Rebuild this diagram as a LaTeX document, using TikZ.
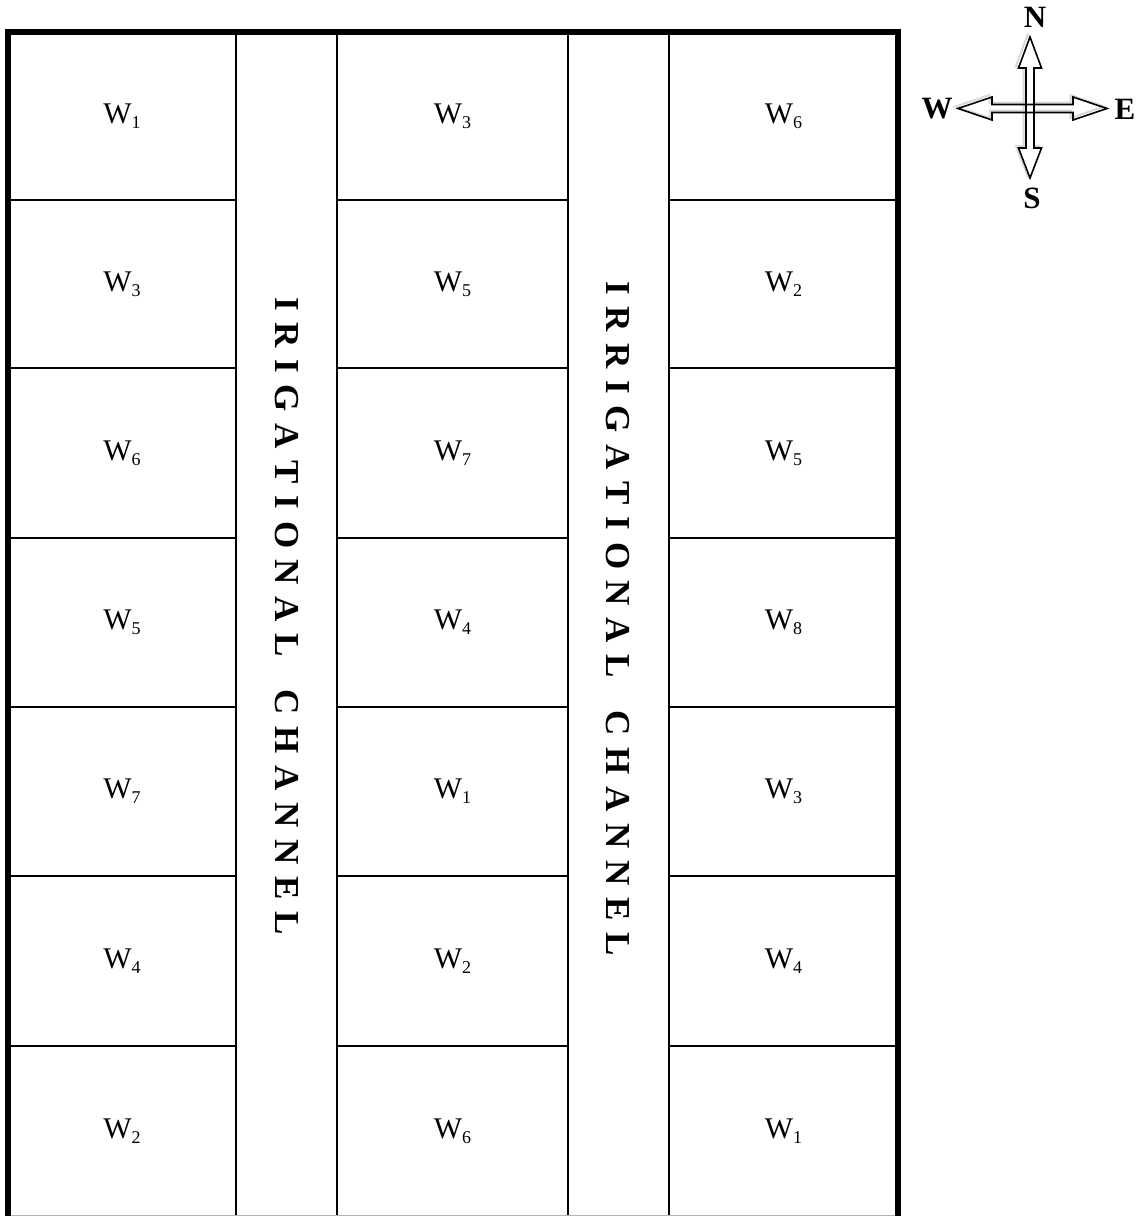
\documentclass[tikz,border=0pt]{standalone}
\usepackage{fontspec}
\setmainfont{Liberation Serif}
\newcommand\wl[1]{W\raisebox{-5pt}{\fontsize{18}{18}\selectfont #1}}
\def\gp{\hskip 11.7pt}
\begin{document}
\begin{tikzpicture}[x=1pt,y=-1pt,
  grid/.style={line width=2pt, black},
  outer/.style={line width=5.5pt, black, line join=miter},
  lab/.style={font=\fontsize{30}{30}\selectfont, inner sep=0pt},
  chan/.style={font=\fontsize{35}{35}\selectfont\bfseries, inner sep=0pt, rotate=-90, anchor=west},
  comp/.style={line width=1.6pt, line join=miter},
  compshadow/.style={line width=2pt, gray!30},
  dir/.style={font=\fontsize{31}{31}\selectfont\bfseries, inner sep=0pt}]
\useasboundingbox (0,0) rectangle (1138,1216);
\fill[white] (0,0) rectangle (1138,1216);

% channel / column lines
\foreach \x in {236,337,568,669} \draw[grid] (\x,32) -- (\x,1216);
% plot row lines
\foreach \y in {200,368,538,707,876,1046} {
  \draw[grid] (8,\y) -- (236,\y);
  \draw[grid] (337,\y) -- (568,\y);
  \draw[grid] (669,\y) -- (898,\y);
}
\draw[gray!60, line width=1pt] (8,1215) -- (898,1215);
\draw[outer] (8,1216) -- (8,32) -- (898,32) -- (898,1216);

% plot labels
\foreach [count=\r] \y/\a/\b/\c in {116/1/3/6, 284/3/5/2, 453/6/7/5, 622.5/5/4/8, 791.5/7/1/3, 961/4/2/4, 1131/2/6/1} {
  \node[lab] (a\r) at (122,\y) {\wl{\a}};
  \node[lab] (b\r) at (452.5,\y) {\wl{\b}};
  \node[lab] (c\r) at (783.5,\y) {\wl{\c}};
}

% channel texts
\node[chan] (ch1) at (286.5,297) {I\gp R\gp I\gp G\gp A\gp T\gp I\gp O\gp N\gp A\gp L\gp\ \gp C\gp H\gp A\gp N\gp N\gp E\gp L};
\node[chan] (ch2) at (618,281) {I\gp R\gp R\gp I\gp G\gp A\gp T\gp I\gp O\gp N\gp A\gp L\gp\ \gp C\gp H\gp A\gp N\gp N\gp E\gp L};

% compass shadow
\begin{scope}[shift={(-2.5,-2)}]
\draw[compshadow] (1030,37) -- (1041.5,68) -- (1034,68) -- (1034,148) -- (1041.5,148) -- (1030,178) -- (1018.5,148) -- (1026,148) -- (1026,68) -- (1018.5,68) -- cycle;
\draw[compshadow] (958,108.5) -- (992,97) -- (992,104.5) -- (1073,104.5) -- (1073,97) -- (1107,108.5) -- (1073,120) -- (1073,112.5) -- (992,112.5) -- (992,120) -- cycle;
\end{scope}
% compass arrows
\draw[comp, fill=white] (1030,37) -- (1041.5,68) -- (1034,68) -- (1034,148) -- (1041.5,148) -- (1030,178) -- (1018.5,148) -- (1026,148) -- (1026,68) -- (1018.5,68) -- cycle;
\draw[comp] (958,108.5) -- (992,97) -- (992,104.5) -- (1073,104.5) -- (1073,97) -- (1107,108.5) -- (1073,120) -- (1073,112.5) -- (992,112.5) -- (992,120) -- cycle;
\draw[comp] (1026,104.5) -- (1026,112.5) (1034,104.5) -- (1034,112.5);

\node[dir] (N) at (1035,17) {N};
\node[dir] (S) at (1032,198) {S};
\node[dir] (W) at (937,109) {W};
\node[dir] (E) at (1125,109) {E};
\end{tikzpicture}
\end{document}
